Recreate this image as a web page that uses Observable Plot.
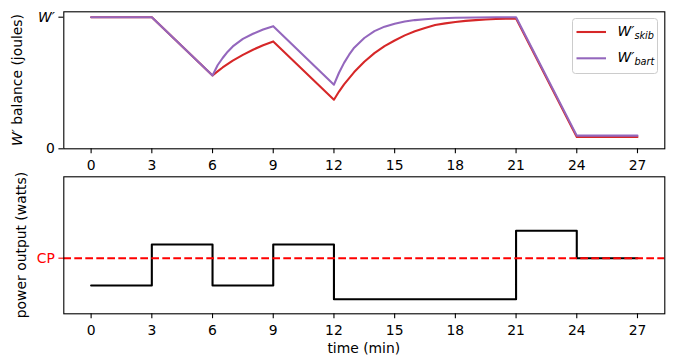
<!DOCTYPE html>
<html><head><meta charset="utf-8">
<script src="https://cdn.jsdelivr.net/npm/d3@7"></script>
<script src="https://cdn.jsdelivr.net/npm/@observablehq/plot@0.6"></script>
<style>
body{margin:0;background:#fff;}
#fig{position:relative;width:677px;height:358px;font-family:"DejaVu Sans",sans-serif;font-size:13.9px;color:#000;}
.lab{position:absolute;white-space:nowrap;line-height:1;}
#fig svg.plot-svg{position:absolute;left:0;}
</style></head><body><div id="fig"></div>
<script>
// x ticks (minutes)
const xTicks = [0, 3, 6, 9, 12, 15, 18, 21, 24, 27];

// W' balance (fraction of W') — Skiba model
const skibT = [0,3,6,6.25,6.5,7,7.5,8,8.5,9,12,12.25,12.5,13,13.5,14,14.5,15,15.5,16,16.5,17,17.5,18,18.5,19,19.5,20,20.5,21,24,27];
const skibW = [1,1,0.557,0.588,0.618,0.670,0.714,0.753,0.787,0.816,0.373,0.435,0.490,0.583,0.662,0.727,0.780,0.823,0.862,0.893,0.918,0.940,0.953,0.964,0.972,0.978,0.982,0.986,0.988,0.990,0.090,0.090];

// W' balance — Bartram model
const bartT = [0,3,6,6.25,6.5,6.75,7,7.5,8,8.5,9,12,12.25,12.5,12.75,13,13.5,14,14.5,15,15.5,16,16.5,17,18,19,20,21,24,27];
const bartW = [1,1,0.557,0.635,0.690,0.738,0.778,0.835,0.874,0.906,0.932,0.487,0.578,0.653,0.715,0.768,0.842,0.894,0.928,0.951,0.967,0.978,0.985,0.990,0.996,0.998,0.999,1.000,0.100,0.100];

// power output (watts), step changes at these times
const powerT = [0, 3, 6, 9, 12, 21, 24, 27];
const powerW = [150, 300, 150, 300, 100, 350, 250, 250];
const CP = 250;

const skib = skibT.map((t, i) => ({t, w: skibW[i]}));
const bart = bartT.map((t, i) => ({t, w: bartW[i]}));
const power = powerT.map((t, i) => ({t, p: powerW[i]}));

const xDomain = [-1.35, 28.35];
const style = {fontFamily: "DejaVu Sans", fontSize: "13.9px", overflow: "visible", background: "transparent", color: "black"};
const common = {width: 677, marginLeft: 63.3, marginRight: 12.7, style, className: "plot-svg"};

const topPlot = Plot.plot({
  ...common,
  height: 165, marginTop: 11.3, marginBottom: 16.7,
  x: {domain: xDomain},
  y: {domain: [0, 1.041]},
  marks: [
    Plot.axisX({ticks: xTicks, tickSize: 4.9, tickPadding: 6, strokeWidth: 1.1, label: null}),
    Plot.axisY({ticks: [0, 1], tickFormat: d => d === 0 ? "0" : "W′", tickSize: 4.9, tickPadding: 4, strokeWidth: 1.1, label: null}),
    Plot.line(skib, {x: "t", y: "w", stroke: "#d62728", strokeWidth: 2.08}),
    Plot.line(bart, {x: "t", y: "w", stroke: "#9467bd", strokeWidth: 2.08}),
    Plot.frame({stroke: "black", strokeWidth: 1.1})
  ]
});

const botPlot = Plot.plot({
  ...common,
  height: 193, marginTop: 11.3, marginBottom: 44.7,
  x: {domain: xDomain},
  y: {domain: [47, 547]},
  marks: [
    Plot.axisX({ticks: xTicks, tickSize: 4.9, tickPadding: 6, strokeWidth: 1.1, label: null}),
    Plot.axisY({ticks: [CP], tickFormat: () => "CP", tickSize: 4.9, tickPadding: 4, strokeWidth: 1.1, color: "red", label: null}),
    Plot.line(power, {x: "t", y: "p", curve: "step-after", stroke: "black", strokeWidth: 2.08}),
    Plot.ruleY([CP], {stroke: "red", strokeWidth: 2.08, strokeDasharray: "7.7,3.3"}),
    Plot.frame({stroke: "black", strokeWidth: 1.1})
  ]
});

const fig = document.getElementById("fig");
topPlot.style.position = "absolute"; topPlot.style.top = "0px"; topPlot.style.left = "0px";
botPlot.style.position = "absolute"; botPlot.style.top = "165px"; botPlot.style.left = "0px";
fig.append(botPlot, topPlot);

d3.select(topPlot).selectAll("text").filter(function() { return this.textContent === "W′"; })
  .style("font-style", "italic");

function label(html, x, y, rot) {
  const d = document.createElement("div");
  d.className = "lab";
  d.innerHTML = html;
  d.style.left = x + "px"; d.style.top = y + "px";
  d.style.transform = "translate(-50%,-50%)" + (rot ? " rotate(-90deg)" : "");
  fig.append(d);
}
label("<i>W′</i> balance (joules)", 17.5, 79.8, true);
label("power output (watts)", 21.5, 244.8, true);
label("time (min)", 363.8, 348.5, false);

// legend
const ns = "http://www.w3.org/2000/svg";
const leg = d3.select(fig).append("svg")
  .attr("width", 86).attr("height", 56)
  .style("position", "absolute").style("left", "571.5px").style("top", "18px").style("overflow", "visible")
  .style("font-family", "DejaVu Sans").style("font-size", "13.9px");
leg.append("rect").attr("x", 0.5).attr("y", 0.5).attr("width", 85).attr("height", 55).attr("rx", 3)
  .attr("fill", "white").attr("fill-opacity", 0.8).attr("stroke", "#cccccc");
const entries = [{name: "skib", color: "#d62728"}, {name: "bart", color: "#9467bd"}];
entries.forEach((e, i) => {
  const y = 14 + i * 26.3;
  leg.append("line").attr("x1", 4.5).attr("x2", 34).attr("y1", y).attr("y2", y)
    .attr("stroke", e.color).attr("stroke-width", 2.08);
  const t = leg.append("text").attr("x", 45.5).attr("y", y + 3.5).attr("font-style", "italic");
  t.append("tspan").text("W′");
  t.append("tspan").attr("font-size", "9.7px").attr("dy", 3.3).text(e.name);
});
</script></body></html>
